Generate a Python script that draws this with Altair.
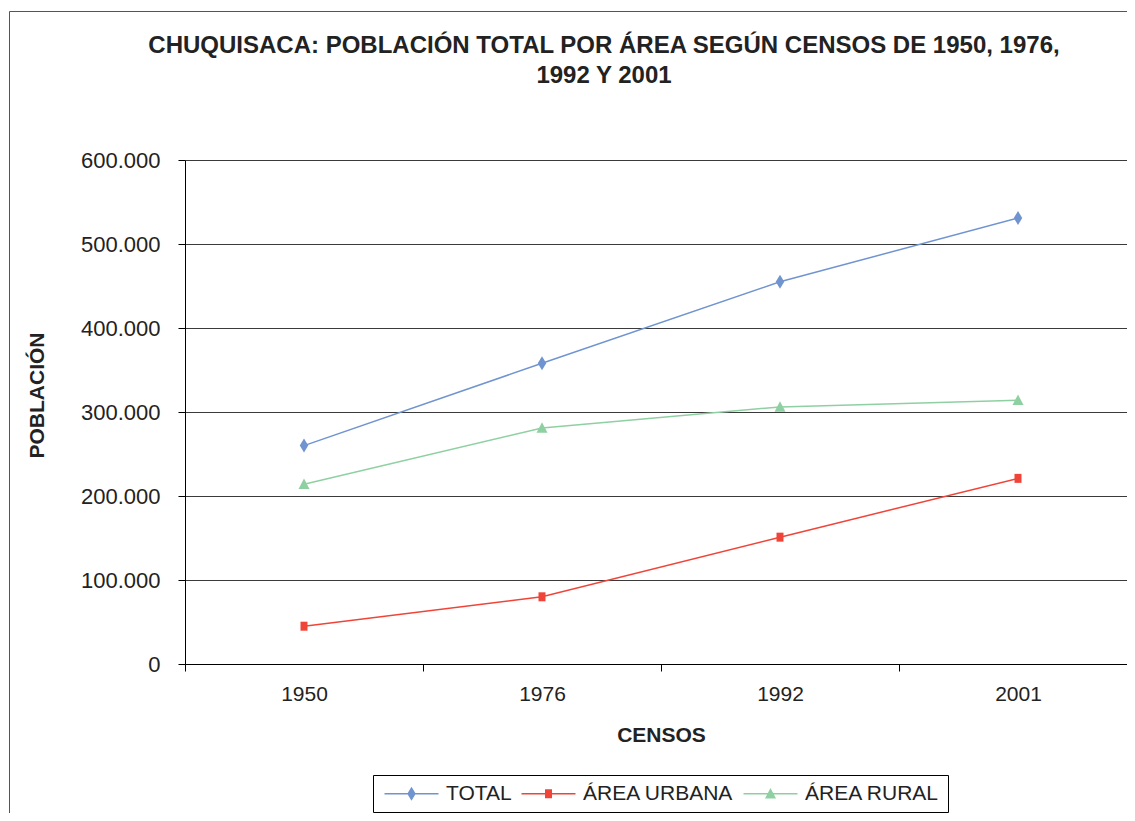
import altair as alt
import pandas as pd

years = ["1950", "1976", "1992", "2001"]
series_names = ["TOTAL", "ÁREA URBANA", "ÁREA RURAL"]
total = [260000, 358000, 455000, 531000]
urbana = [45000, 80000, 151000, 221000]
rural = [214000, 281000, 306000, 314000]
y_ticks = [0, 100000, 200000, 300000, 400000, 500000, 600000]
colors = ["#7094D0", "#F04438", "#8FD0A2"]

rows = []
for name, vals in zip(series_names, [total, urbana, rural]):
    for yr, v in zip(years, vals):
        rows.append({"censo": yr, "serie": name, "poblacion": v})
df = pd.DataFrame(rows)

FONT = "Liberation Sans"

marker_paths = [
    "M0,-1.4L0.85,0L0,1.4L-0.85,0Z",
    "M-0.7,-0.9H0.7V0.9H-0.7Z",
    "M0,-1.15L1.1,0.95H-1.1Z",
]
bar = "M-5.4,-0.15H5.4V0.15H-5.4Z"
legend_paths = [bar + p for p in marker_paths]

color_scale = alt.Scale(domain=series_names, range=colors)

x_enc = alt.X(
    "censo:N",
    sort=years,
    scale=alt.Scale(paddingInner=0, paddingOuter=0, range=[0, 952]),
    axis=alt.Axis(
        title="CENSOS",
        labelAngle=0,
        tickBand="extent",
        tickSize=7,
        tickColor="#000",
        domainColor="#000",
        labelFont=FONT,
        labelFontSize=21,
        labelColor="#222",
        labelPadding=12,
        titleFont=FONT,
        titleFontSize=21,
        titleFontWeight="bold",
        titleColor="#222",
        titlePadding=20,
        grid=False,
    ),
)
y_enc = alt.Y(
    "poblacion:Q",
    scale=alt.Scale(domain=[0, 600000], nice=False),
    axis=alt.Axis(
        title="POBLACIÓN",
        values=y_ticks,
        labelExpr="replace(format(datum.value, ','), ',', '.')",
        tickSize=7,
        tickColor="#000",
        domainColor="#000",
        gridColor="#3a3a3a",
        gridWidth=1,
        labelFont=FONT,
        labelFontSize=22,
        labelColor="#222",
        labelPadding=18,
        titleFont=FONT,
        titleFontSize=21,
        titleFontWeight="bold",
        titleColor="#222",
        titleX=-148,
        titleY=235,
        titleBaseline="middle",
    ),
)

frame = alt.Chart(alt.Data(values=[{}])).mark_rect(
    fillOpacity=0, stroke="#555", strokeWidth=1
).encode(
    x=alt.value(-175.5), x2=alt.value(1000),
    y=alt.value(-148.5), y2=alt.value(700),
)

base = alt.Chart(df)

lines = base.mark_line(strokeWidth=1.5).encode(
    x=x_enc, y=y_enc,
    color=alt.Color("serie:N", scale=color_scale, legend=None),
    detail="serie:N",
)

points = base.mark_point(filled=True, size=100, opacity=1).encode(
    x=x_enc, y=y_enc,
    color=alt.Color("serie:N", scale=color_scale, legend=None),
    shape=alt.Shape("serie:N", scale=alt.Scale(domain=series_names, range=marker_paths), legend=None),
)

legend_layer = base.transform_filter("false").mark_point(filled=True, size=100, opacity=1).encode(
    color=alt.Color(
        "serie:N",
        scale=color_scale,
        legend=alt.Legend(
            title=None,
            orient="none",
            legendX=188,
            legendY=615,
            direction="horizontal",
            labelFont=FONT,
            labelFontSize=21,
            labelColor="#222",
            labelLimit=400,
            symbolSize=100,
            symbolOffset=20,
            labelOffset=24,
            columnPadding=6,
            padding=8,
            strokeColor="#000",
            fillColor="#fff",
            symbolStrokeWidth=0,
        ),
    ),
    shape=alt.Shape("serie:N", scale=alt.Scale(domain=series_names, range=legend_paths)),
)

chart = alt.layer(frame, lines, points, legend_layer).resolve_scale(
    color="independent", shape="independent"
).properties(
    width=942,
    height=504,
    padding={"left": 177, "top": 152, "right": 0, "bottom": 149},
    autosize=alt.AutoSizeParams(type="none"),
    title=alt.TitleParams(
        text=["CHUQUISACA: POBLACIÓN TOTAL POR ÁREA SEGÚN CENSOS DE 1950, 1976,", "1992 Y 2001"],
        font=FONT,
        fontSize=24,
        fontWeight="bold",
        color="#222",
        anchor="middle",
        dx=-52,
        dy=77,
        offset=0,
        lineHeight=30,
    ),
).configure_view(stroke=None).configure(background="white")

chart.save("out.html", embed_options={"renderer": "svg", "actions": False})
